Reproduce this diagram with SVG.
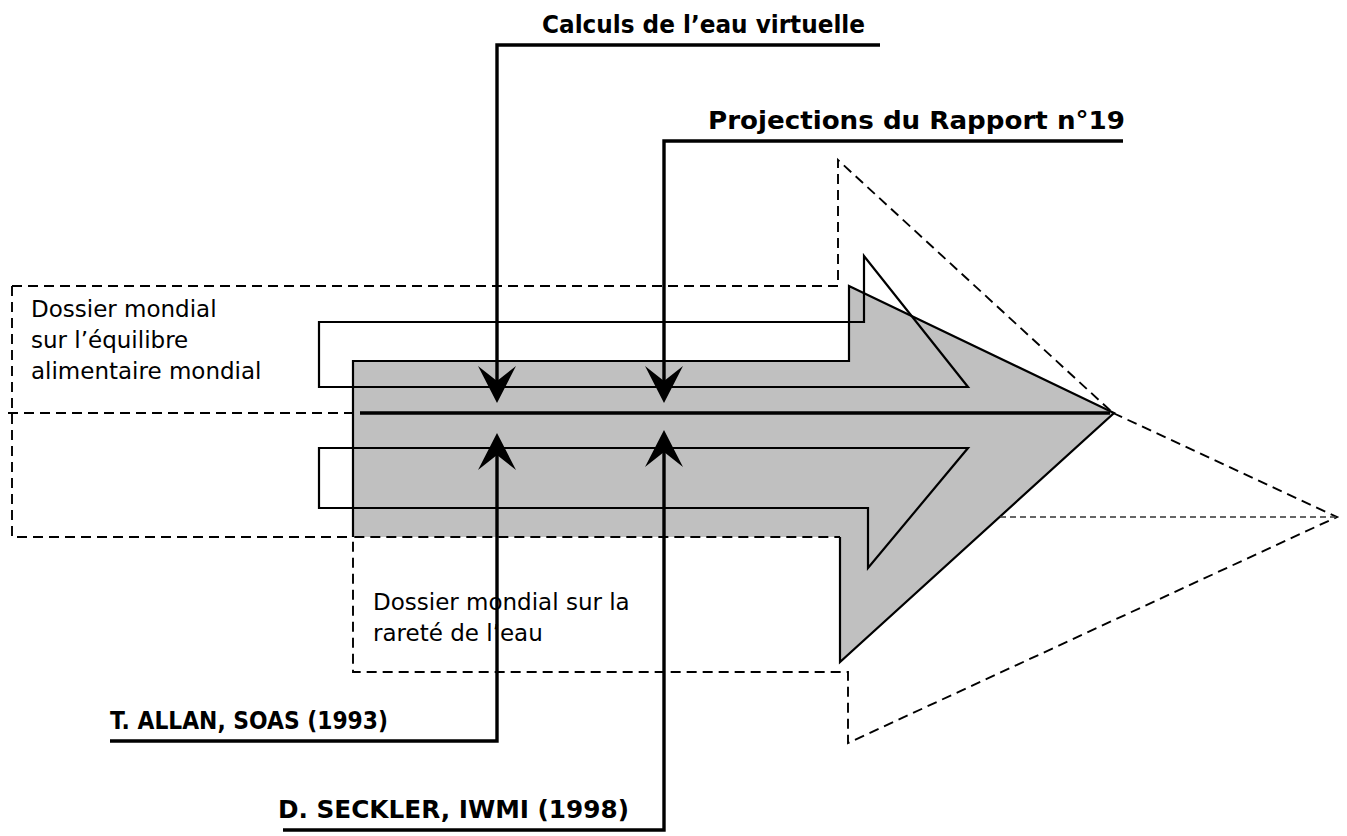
<svg xmlns="http://www.w3.org/2000/svg" width="1347" height="836" viewBox="0 0 1347 836">
<style>
.dash{fill:none;stroke:#000;stroke-width:1.9;stroke-dasharray:10,6}
.fine{fill:none;stroke:#333;stroke-width:1.4;stroke-dasharray:6,4}
.out{fill:none;stroke:#000;stroke-width:2.2}
.con{fill:none;stroke:#000;stroke-width:3.4}
.lbl{font-family:"DejaVu Sans",Verdana,sans-serif;font-size:23px;fill:#000}
.ttl{font-family:"DejaVu Sans",Verdana,sans-serif;font-size:25px;font-weight:bold;fill:#000}
</style>
<defs>
<marker id="ah" viewBox="0 0 37 38" refX="15" refY="19" markerWidth="37" markerHeight="38" markerUnits="userSpaceOnUse" orient="auto">
<path d="M0,0 L37,19 L0,38 L15,19 Z" fill="#000"/>
</marker>
</defs>
<rect width="1347" height="836" fill="#fff"/>
<g id="main-arrow">
<path d="M353,361 H849 V286 L1114,413 L840,662 V537 H353 Z" fill="#c0c0c0"/>
<path d="M353,537 V361 H849 V286 L1114,413 L840,662 V537" class="out"/>
</g>
<g id="dossier-equilibre">
<path d="M12,286 H838 V160 L1113,413" class="dash"/>
<path d="M8,413 H353" class="dash"/>
<path d="M12,286 V537 H353" class="dash"/>
<text class="lbl" x="31" y="317">Dossier mondial</text>
<text class="lbl" x="31" y="348">sur l’équilibre</text>
<text class="lbl" x="31" y="379">alimentaire mondial</text>
</g>
<g id="dossier-rarete">
<path d="M1113,413 L1337,517 L848,743 V672 H353 V537 H840" class="dash"/>
<path d="M1000,517 H1337" class="fine"/>
<text class="lbl" x="373" y="610">Dossier mondial sur la</text>
<text class="lbl" x="373" y="641">rareté de l’eau</text>
</g>
<g id="inner-arrows">
<path d="M319,322 H864 V256 L968,387 H319 Z" class="out"/>
<path d="M319,448 H968 L868,568 V508 H319 Z" class="out"/>
</g>
<g id="connectors">
<path d="M360,413 H1110" class="con" stroke-width="3.8"/>
<path d="M880,45 H497 V381" class="con" marker-end="url(#ah)"/>
<path d="M1123,141 H664 V381" class="con" marker-end="url(#ah)"/>
<path d="M110,741 H497 V455" class="con" marker-end="url(#ah)"/>
<path d="M283,830 H664 V452" class="con" marker-end="url(#ah)"/>
</g>
<g id="label-calculs"><text class="ttl" x="542" y="33" textLength="323" lengthAdjust="spacingAndGlyphs">Calculs de l’eau virtuelle</text></g>
<g id="label-projections"><text class="ttl" x="708" y="129" textLength="417" lengthAdjust="spacingAndGlyphs">Projections du Rapport n°19</text></g>
<g id="label-allan"><text class="ttl" x="110" y="729" textLength="278" lengthAdjust="spacingAndGlyphs">T. ALLAN, SOAS (1993)</text></g>
<g id="label-seckler"><text class="ttl" x="278" y="818" textLength="351" lengthAdjust="spacingAndGlyphs">D. SECKLER, IWMI (1998)</text></g>
</svg>
